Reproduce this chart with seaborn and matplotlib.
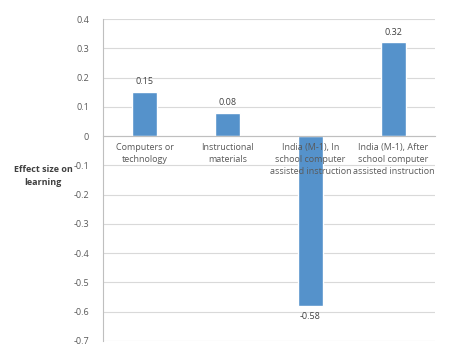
import matplotlib
matplotlib.use("Agg")
import matplotlib.pyplot as plt
import seaborn as sns
import pandas as pd
import numpy as np

categories = ["Computers or\ntechnology", "Instructional\nmaterials",
              "India (M-1), In\nschool computer\nassisted instruction",
              "India (M-1), After\nschool computer\nassisted instruction"]
values = [0.15, 0.08, -0.58, 0.32]
value_labels = ["0.15", "0.08", "-0.58", "0.32"]
yticks = [0.4, 0.3, 0.2, 0.1, 0, -0.1, -0.2, -0.3, -0.4, -0.5, -0.6, -0.7]
ytick_labels = ["0.4", "0.3", "0.2", "0.1", "0", "-0.1", "-0.2", "-0.3", "-0.4", "-0.5", "-0.6", "-0.7"]
ylabel = "Effect size on\nlearning"

sns.set_style("white")
plt.rcParams['font.family'] = ['Open Sans', 'DejaVu Sans']

df = pd.DataFrame({"cat": categories, "val": values})
fig = plt.figure(figsize=(4.53, 3.53), dpi=100)
ax = fig.add_axes([0.2274, 0.034, 0.733, 0.912])
sns.barplot(data=df, x="cat", y="val", color="#5592CB", width=0.3, ax=ax,
            saturation=1, zorder=3)
ax.set_ylim(-0.7, 0.4)
ax.set_xlim(-0.5, 3.5)
ax.set_yticks(yticks)
ax.set_yticklabels(ytick_labels, color="#595959", fontsize=6.5)
ax.grid(axis="y", color="#D9D9D9", linewidth=0.8, zorder=0)
ax.set_axisbelow(True)
for s in ["top", "right"]:
    ax.spines[s].set_visible(False)
ax.spines["left"].set_color("#BFBFBF")
ax.spines["left"].set_linewidth(0.8)
ax.spines["bottom"].set_position(("data", 0))
ax.spines["bottom"].set_color("#BFBFBF")
ax.spines["bottom"].set_linewidth(0.8)
ax.spines["bottom"].set_zorder(4)
ax.tick_params(axis="y", length=0, pad=10)
ax.set_xticks(range(len(categories)))
ax.set_xticklabels([])
ax.tick_params(axis="x", which="major", length=0)
ax.set_xticks([0.5, 1.5, 2.5], minor=True)
ax.tick_params(axis="x", which="minor", length=3, color="#BFBFBF", direction="out")
ax.set_xlabel("")
ax.set_ylabel("")

for i, c in enumerate(categories):
    ax.annotate(c, xy=(i, 0), xytext=(0, -5), textcoords="offset points",
                ha="center", va="top", fontsize=6.5, color="#595959",
                linespacing=1.45, zorder=6)

fig.text(43 / 453, 1 - 176 / 353, ylabel, ha="center", va="center", fontsize=6.5,
         fontweight="bold", color="#404040", linespacing=1.7)

for i, (v, t) in enumerate(zip(values, value_labels)):
    off = 0.035 if v >= 0 else -0.035
    ax.text(i, v + off, t, ha="center", va="center", fontsize=6.5, color="#404040")
fig.savefig("out.png", dpi=100)
